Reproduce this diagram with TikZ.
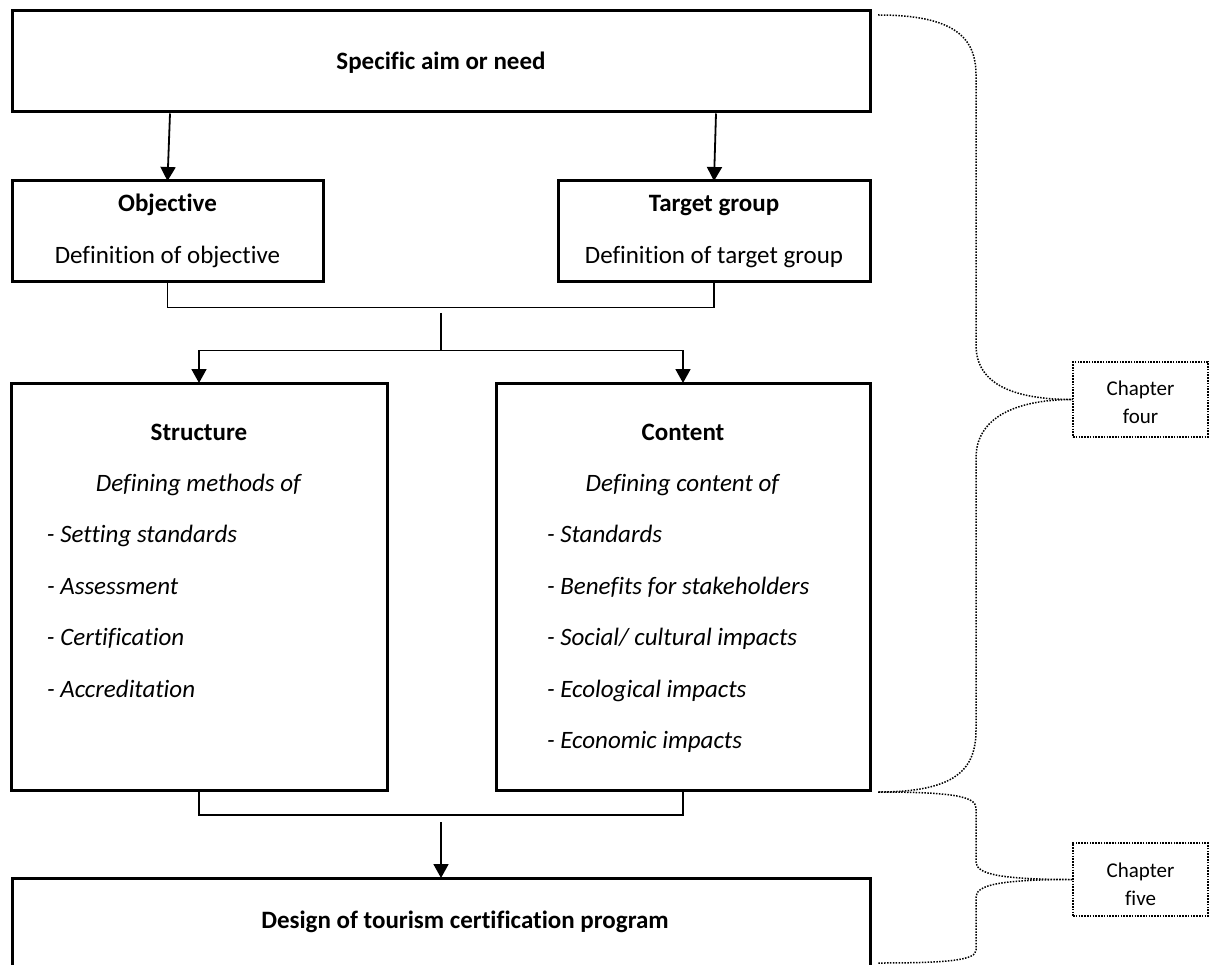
\documentclass[tikz,border=0pt]{standalone}
\usepackage{fontspec}
\setmainfont{Carlito}[Ligatures={NoCommon,NoContextual}]
\usetikzlibrary{arrows.meta,calc}
\begin{document}
\begin{tikzpicture}[x=1pt,y=-1pt,
  box/.style={draw,line width=3pt,inner sep=0pt,outer sep=0pt,font=\fontsize{25}{30}\selectfont},
  link/.style={line width=1.8pt},
  arr/.style={link,-{Triangle[length=14pt,width=15pt]}},
  chap/.style={draw,line width=1.6pt,dash pattern=on 1.6pt off 1.2pt,inner sep=0pt,outer sep=0pt,font=\fontsize{21}{28}\selectfont},
  brace/.style={line width=1.5pt,dash pattern=on 1.5pt off 1.4pt}]
\useasboundingbox (0,0) rectangle (1209,965);

% main boxes
\node[box] (aim) at (441,61.5) {\parbox[c][101pt][t]{858pt}{\centering\rule{0pt}{59pt}\textbf{Specific aim or need}\par}};
\node[box] (obj) at (167.5,231.5) {\parbox[c][101pt][t]{311pt}{\centering\fontsize{25}{52}\selectfont\rule{0pt}{31pt}\textbf{Objective}\\Definition of objective\par}};
\node[box] (tgt) at (714,231.5) {\parbox[c][101pt][t]{312pt}{\centering\fontsize{25}{52}\selectfont\rule{0pt}{31pt}\textbf{Target group}\\Definition of target group\par}};
\node[box] (str) at (199,586.5) {\parbox[c][407pt][t]{376pt}{\fontsize{25}{51.4}\selectfont
  {\centering\rule{0pt}{57pt}\textbf{Structure}\\\textit{Defining methods of}\par}
  \hspace*{36pt}\textit{- Setting standards}\par
  \hspace*{36pt}\textit{- Assessment}\par
  \hspace*{36pt}\textit{- Certification}\par
  \hspace*{36pt}\textit{- Accreditation}\par}};
\node[box] (cnt) at (683,586.5) {\parbox[c][407pt][t]{374pt}{\fontsize{25}{51.4}\selectfont
  {\centering\rule{0pt}{57pt}\textbf{Content}\\\textit{Defining content of}\par}
  \hspace*{51pt}\textit{- Standards}\par
  \hspace*{51pt}\textit{- Benefits for stakeholders}\par
  \hspace*{51pt}\textit{- Social/ cultural impacts}\par
  \hspace*{51pt}\textit{- Ecological impacts}\par
  \hspace*{51pt}\textit{- Economic impacts}\par}};
\node[box] (design) at (441,922.5) {\parbox[c][89pt][t]{858pt}{\centering\rule{0pt}{50pt}\hspace*{48pt}\textbf{Design of tourism certification program}\par}};

% chapter labels
\node[chap] (ch4) at (1140.5,399.5) {\parbox[c][75pt][t]{135pt}{\centering\rule{0pt}{33pt}Chapter\\four\par}};
\node[chap] (ch5) at (1140.5,879.5) {\parbox[c][73pt][t]{135pt}{\centering\rule{0pt}{34pt}Chapter\\five\par}};

% connectors
\coordinate (a1) at (170,113.5);
\coordinate (a2) at (716,113.5);
\draw[arr] (a1) -- (obj.north);
\draw[arr] (a2) -- (tgt.north);
\draw[link] (obj.south) -- ++(0,25.5) -| (tgt.south);
\coordinate (m1) at (441,313);
\coordinate (m2) at (441,350.5);
\draw[link] (m1) -- (m2);
\draw[arr] (m2) -| (str.north);
\draw[arr] (m2) -| (cnt.north);
\draw[link] (str.south) -- ++(0,25) -| (cnt.south);
\coordinate (m3) at (441,822);
\draw[arr] (m3) -- (design.north);

% dotted braces
\coordinate (b1) at (878,15);
\coordinate (b2) at (878,792);
\coordinate (b3) at (878,963);
\draw[brace] (b1) .. controls (955,15) and (976,38) .. (976,75) -- (976,345)
  .. controls (976,385) and (1015,399.5) .. (ch4.west)
  .. controls (1015,399.5) and (976,418) .. (976,458) -- (976,730)
  .. controls (976,770) and (955,792) .. (b2);
\draw[brace] (b2) .. controls (950,792) and (976,796) .. (976,808) -- (976,862)
  .. controls (976,874) and (1000,879.5) .. (ch5.west)
  .. controls (1000,879.5) and (976,885) .. (976,897) -- (976,950)
  .. controls (976,960) and (950,963) .. (b3);
\end{tikzpicture}
\end{document}
